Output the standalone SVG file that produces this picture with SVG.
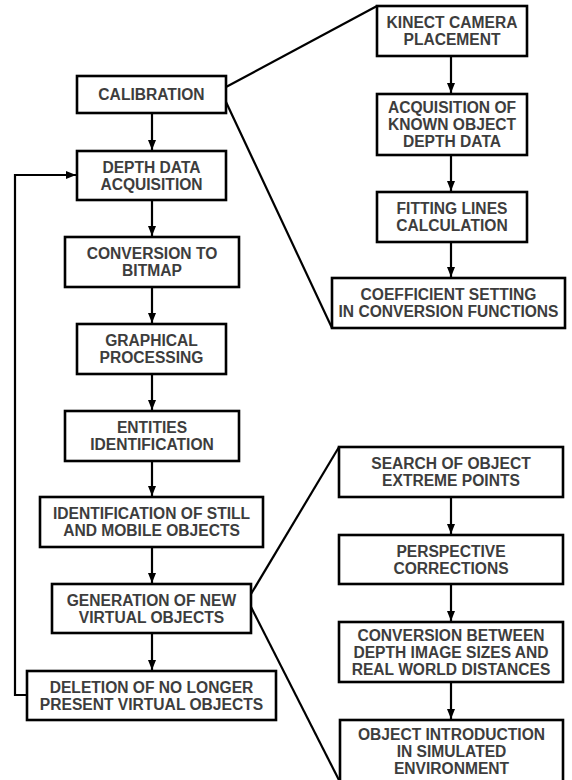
<svg xmlns="http://www.w3.org/2000/svg" width="572" height="780" viewBox="0 0 572 780">
<style>
.box rect{fill:#fff;stroke:#000;stroke-width:2.6}
.box text{font-family:"Liberation Sans",Arial,sans-serif;font-weight:bold;font-size:15.6px;fill:#3d3d3d;text-anchor:middle}
.conn line,.conn path{stroke:#000;stroke-width:2.2;fill:none}
.arr{marker-end:url(#ah)}
</style>
<defs>
<marker id="ah" viewBox="0 0 10 8" refX="10" refY="4" markerWidth="10" markerHeight="8" markerUnits="userSpaceOnUse" orient="auto">
<path d="M0,0 L10,4 L0,8 Z" fill="#000"/>
</marker>
</defs>
<rect width="572" height="780" fill="#fff"/>
<g id="connectors" class="conn">
<line class="arr" x1="152" y1="113" x2="152" y2="150"/>
<line class="arr" x1="152" y1="200" x2="152" y2="236"/>
<line class="arr" x1="152" y1="287" x2="152" y2="323"/>
<line class="arr" x1="152" y1="374" x2="152" y2="410"/>
<line class="arr" x1="152" y1="461" x2="152" y2="496"/>
<line class="arr" x1="152" y1="547" x2="152" y2="583"/>
<line class="arr" x1="152" y1="633" x2="152" y2="670"/>
<path class="arr" d="M27,695 H15 V175 H76"/>
<line class="arr" x1="451" y1="56" x2="451" y2="93"/>
<line class="arr" x1="451" y1="155" x2="451" y2="191"/>
<line class="arr" x1="451" y1="242" x2="451" y2="277"/>
<line class="arr" x1="451" y1="497" x2="451" y2="534"/>
<line class="arr" x1="451" y1="584" x2="451" y2="621"/>
<line class="arr" x1="451" y1="682" x2="451" y2="719"/>
<line x1="226" y1="87" x2="377" y2="6"/>
<line x1="226" y1="102" x2="332" y2="328"/>
<line x1="251" y1="594" x2="339" y2="447"/>
<line x1="251" y1="607" x2="342" y2="786"/>
</g>
<g id="calibration" class="box"><rect x="77" y="76" width="149" height="37"/><text x="151.5" y="100">CALIBRATION</text></g>
<g id="depth-data-acquisition" class="box"><rect x="77" y="151" width="149" height="49"/><text x="151.5" y="173">DEPTH DATA</text><text x="151.5" y="190">ACQUISITION</text></g>
<g id="conversion-to-bitmap" class="box"><rect x="65" y="237" width="174" height="50"/><text x="152" y="259">CONVERSION TO</text><text x="152" y="276">BITMAP</text></g>
<g id="graphical-processing" class="box"><rect x="77" y="324" width="149" height="50"/><text x="151.5" y="346">GRAPHICAL</text><text x="151.5" y="363">PROCESSING</text></g>
<g id="entities-identification" class="box"><rect x="65" y="411" width="174" height="50"/><text x="152" y="433">ENTITIES</text><text x="152" y="450">IDENTIFICATION</text></g>
<g id="identification-still-mobile" class="box"><rect x="40" y="497" width="223" height="50"/><text x="151.5" y="519">IDENTIFICATION OF STILL</text><text x="151.5" y="536">AND MOBILE OBJECTS</text></g>
<g id="generation-virtual-objects" class="box"><rect x="52" y="584" width="199" height="49"/><text x="151.5" y="606">GENERATION OF NEW</text><text x="151.5" y="623">VIRTUAL OBJECTS</text></g>
<g id="deletion-virtual-objects" class="box"><rect x="27" y="671" width="249" height="49"/><text x="151.5" y="693">DELETION OF NO LONGER</text><text x="151.5" y="710">PRESENT VIRTUAL OBJECTS</text></g>
<g id="kinect-camera-placement" class="box"><rect x="377" y="6" width="150" height="50"/><text x="452" y="28">KINECT CAMERA</text><text x="452" y="45">PLACEMENT</text></g>
<g id="acquisition-known-object" class="box"><rect x="377" y="94" width="150" height="61"/><text x="452" y="113">ACQUISITION OF</text><text x="452" y="130">KNOWN OBJECT</text><text x="452" y="147">DEPTH DATA</text></g>
<g id="fitting-lines-calculation" class="box"><rect x="377" y="192" width="150" height="50"/><text x="452" y="214">FITTING LINES</text><text x="452" y="231">CALCULATION</text></g>
<g id="coefficient-setting" class="box"><rect x="332" y="278" width="233" height="50"/><text x="448.5" y="300">COEFFICIENT SETTING</text><text x="448.5" y="317">IN CONVERSION FUNCTIONS</text></g>
<g id="search-extreme-points" class="box"><rect x="339" y="447" width="224" height="50"/><text x="451" y="469">SEARCH OF OBJECT</text><text x="451" y="486">EXTREME POINTS</text></g>
<g id="perspective-corrections" class="box"><rect x="339" y="535" width="224" height="49"/><text x="451" y="557">PERSPECTIVE</text><text x="451" y="574">CORRECTIONS</text></g>
<g id="conversion-depth-real" class="box"><rect x="339" y="622" width="224" height="60"/><text x="451" y="641">CONVERSION BETWEEN</text><text x="451" y="658">DEPTH IMAGE SIZES AND</text><text x="451" y="675">REAL WORLD DISTANCES</text></g>
<g id="object-introduction" class="box"><rect x="340" y="720" width="223" height="66"/><text x="451.5" y="740">OBJECT INTRODUCTION</text><text x="451.5" y="757">IN SIMULATED</text><text x="451.5" y="774">ENVIRONMENT</text></g>
</svg>
